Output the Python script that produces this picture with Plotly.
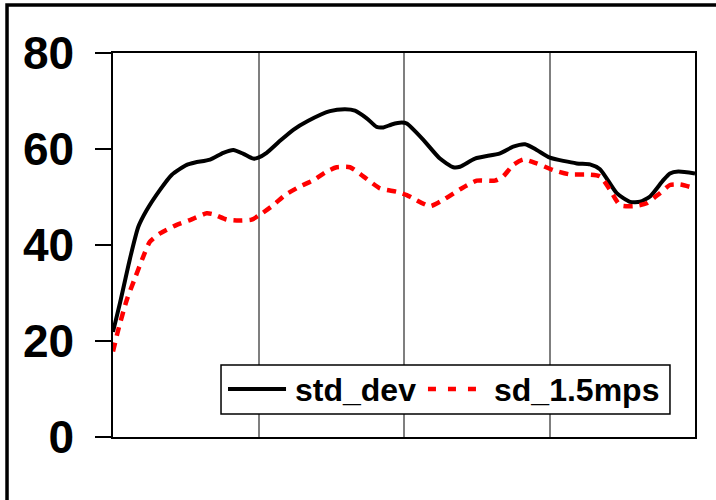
import plotly.graph_objects as go

# std_dev series (x in chart units 0..400, gridlines every 100)
std_x = [0, 4.8, 11.7, 17.4, 23.2, 32.3, 40.3, 50.7, 56.4, 66.7, 75.8, 82.7, 89.6, 96.4,
         99.9, 105.6, 114.8, 123.9, 134.2, 149.1, 159.5, 166.3, 174.4, 181.2, 185.8, 191.5,
         198.4, 201.9, 213.3, 224.7, 233.9, 238.5, 248.8, 266.0, 275.1, 283.2, 291.2, 300.3,
         318.7, 327.8, 334.7, 346.2, 355.3, 362.2, 369.1, 378.2, 382.8, 388.5, 400]
std_y = [21.9, 27.9, 37.2, 43.8, 47.3, 51.5, 54.6, 56.7, 57.2, 57.8, 59.2, 59.8, 59.0, 58.0,
         58.2, 59.2, 61.7, 64.0, 65.9, 67.9, 68.3, 68.0, 66.4, 64.6, 64.5, 65.1,
         65.5, 65.3, 61.9, 58.0, 56.2, 56.3, 58.0, 59.1, 60.5, 61.0, 59.8, 58.2,
         57.0, 56.8, 55.8, 50.8, 49.0, 49.0, 50.1, 53.5, 54.9, 55.3, 54.9]

# sd_1.5mps series
sd_x = [0, 3.6, 9.4, 15.1, 20.8, 25.4, 32.3, 43.8, 52.9, 64.4, 68.9, 78.1, 85.0, 95.3,
        101.0, 110.2, 118.2, 128.5, 137.7, 146.9, 153.7, 162.9, 172.0, 183.5, 195.0, 201.9,
        206.4, 217.9, 227.0, 238.5, 250.0, 262.5, 268.2, 275.1, 282.0, 291.2, 302.6, 314.1,
        325.6, 334.7, 341.6, 348.5, 357.6, 366.8, 375.9, 382.8, 389.7, 396.6]
sd_y = [17.8, 22.3, 28.5, 33.1, 37.6, 40.7, 42.4, 44.2, 45.2, 46.6, 46.4, 45.3, 45.1, 45.3,
        46.3, 48.3, 50.4, 52.2, 53.5, 55.3, 56.2, 56.2, 54.3, 51.8, 51.1, 50.4,
        49.7, 48.1, 49.4, 51.6, 53.4, 53.4, 54.3, 56.7, 57.8, 57.0, 55.6, 54.7,
        54.7, 54.3, 51.5, 48.3, 48.1, 48.7, 50.8, 52.5, 52.6, 52.1]

y_ticks = [0, 20, 40, 60, 80]
x_grid = [0, 100, 200, 300, 400]
series_names = ["std_dev", "sd_1.5mps"]
series_colors = ["black", "#ff0000"]

fig = go.Figure()
fig.add_trace(go.Scatter(x=std_x, y=std_y, mode="lines", name=series_names[0],
                         showlegend=False,
                         line=dict(color=series_colors[0], width=4, shape="spline",
                                   smoothing=0.6)))
fig.add_trace(go.Scatter(x=sd_x, y=sd_y, mode="lines", name=series_names[1],
                         showlegend=False,
                         line=dict(color=series_colors[1], width=4.5, dash="9px,7px",
                                   shape="spline", smoothing=0.6)))

fig.update_layout(
    width=716, height=500,
    margin=dict(l=113, r=21, t=53, b=63),
    paper_bgcolor="white", plot_bgcolor="white",
    font=dict(family="Liberation Sans, Arial, sans-serif", color="black"),
    showlegend=False,
    xaxis=dict(range=[x_grid[0], x_grid[-1]], tickvals=x_grid, showticklabels=False,
               ticks="", showgrid=True, gridcolor="#7f7f7f", gridwidth=1.5,
               showline=True, linecolor="black", linewidth=1.5, mirror=True,
               zeroline=False, fixedrange=True),
    yaxis=dict(range=[y_ticks[0], y_ticks[-1]], tickvals=y_ticks,
               ticks="outside", ticklen=16, tickwidth=1.5, tickcolor="black",
               showgrid=False, showline=True, linecolor="black", linewidth=1.5,
               mirror=True, zeroline=False,
               tickfont=dict(size=46, weight="bold", color="black"),
               ticklabelstandoff=12, fixedrange=True),
)

# outer frame of the picture (extends past right/bottom edge)
fig.add_shape(type="rect", xref="paper", yref="paper",
              x0=-0.1821, x1=1.2, y0=-0.3, y1=1.125,
              line=dict(color="black", width=3.5), fillcolor="rgba(0,0,0,0)", layer="below")

# legend box drawn in paper coordinates
fig.add_shape(type="rect", xref="paper", yref="paper",
              x0=0.1856, x1=0.9570, y0=0.0599, y1=0.1875,
              line=dict(color="black", width=1.5), fillcolor="white", layer="above")
fig.add_shape(type="line", xref="paper", yref="paper",
              x0=0.1976, x1=0.2973, y0=0.125, y1=0.125,
              line=dict(color=series_colors[0], width=4), layer="above")
fig.add_shape(type="line", xref="paper", yref="paper",
              x0=0.5412, x1=0.6306, y0=0.125, y1=0.125,
              line=dict(color=series_colors[1], width=4.5, dash="8px,12px"), layer="above")
fig.add_annotation(xref="paper", yref="paper", x=0.3093, y=0.122, xanchor="left",
                   yanchor="middle", text=series_names[0], showarrow=False,
                   font=dict(size=32, weight="bold", color="black"))
fig.add_annotation(xref="paper", yref="paper", x=0.6512, y=0.122, xanchor="left",
                   yanchor="middle", text=series_names[1], showarrow=False,
                   font=dict(size=32, weight="bold", color="black"))

fig.write_html("out.html", config={"displayModeBar": False},
               post_script="document.body.style.margin='0';")
